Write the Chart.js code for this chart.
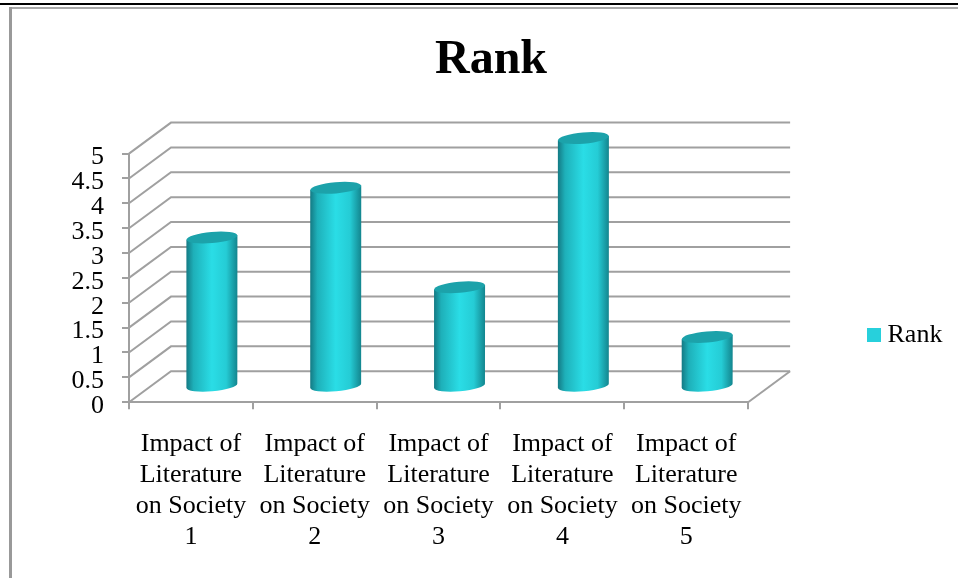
<!DOCTYPE html>
<html>
<head>
<meta charset="utf-8">
<style>html,body{margin:0;padding:0;background:#fff}canvas{display:block}</style>
<script src="https://cdn.jsdelivr.net/npm/chart.js@4"></script>
</head>
<body>
<canvas id="c" width="958" height="578"></canvas>
<script>
const categories = [
  ["Impact of","Literature","on Society","1"],
  ["Impact of","Literature","on Society","2"],
  ["Impact of","Literature","on Society","3"],
  ["Impact of","Literature","on Society","4"],
  ["Impact of","Literature","on Society","5"]
];
const seriesName = "Rank";
const rankValues = [3, 4, 2, 5, 1];
const axisMax = 5;
const axisStep = 0.5;

const FONT = "'Liberation Serif','Times New Roman',serif";
const GRID = "#a0a0a0";
const DEPTH_X = 42, DEPTH_Y = 31;

function drawCylinder(ctx, cx, top, bottom, rx) {
  const ry = 5.6, tilt = -5 * Math.PI / 180, d = rx * Math.sin(-tilt);
  const g = ctx.createLinearGradient(cx - rx, 0, cx + rx, 0);
  g.addColorStop(0, "#147a84");
  g.addColorStop(0.14, "#1eb0b9");
  g.addColorStop(0.5, "#2adde6");
  g.addColorStop(0.78, "#25ccd5");
  g.addColorStop(1, "#13858e");
  ctx.beginPath();
  ctx.moveTo(cx - rx, top + d);
  ctx.lineTo(cx - rx, bottom + d);
  ctx.ellipse(cx, bottom, rx, ry, tilt, Math.PI, 0, true);
  ctx.lineTo(cx + rx, top - d);
  ctx.closePath();
  ctx.fillStyle = g;
  ctx.fill();
  ctx.beginPath();
  ctx.ellipse(cx, top, rx, ry, tilt, 0, Math.PI * 2);
  ctx.fillStyle = "#1ca2aa";
  ctx.fill();
}

const scene = {
  id: "scene",
  beforeDraw(chart) {
    const ctx = chart.ctx;
    ctx.save();
    ctx.fillStyle = "#fff";
    ctx.fillRect(0, 0, chart.width, chart.height);
    ctx.fillStyle = "#000";
    ctx.fillRect(0, 3, chart.width, 2);
    ctx.fillStyle = "#a8a8a8";
    ctx.fillRect(9, 7, chart.width - 9, 2);
    ctx.fillStyle = "#999";
    ctx.fillRect(9, 7, 3, chart.height - 7);
    ctx.restore();
  },
  afterLayout(chart) {
    const t = chart.titleBlock, l = chart.legend;
    t.left += 72.5; t.right += 72.5;
    const h = t.bottom - t.top;
    t.top = 32; t.bottom = 32 + h;
    const w = l.right - l.left;
    l.left = 863.5; l.right = 863.5 + w;
    const lh = l.bottom - l.top;
    l.top = 312; l.bottom = 312 + lh;
  },
  beforeDatasetsDraw(chart) {
    const ctx = chart.ctx, y = chart.scales.y, a = chart.chartArea;
    ctx.save();
    ctx.strokeStyle = GRID;
    ctx.lineWidth = 2;
    y.ticks.forEach(t => {
      const py = y.getPixelForValue(t.value);
      ctx.beginPath();
      ctx.moveTo(a.left, py);
      ctx.lineTo(a.left + DEPTH_X, py - DEPTH_Y);
      ctx.lineTo(a.right + DEPTH_X, py - DEPTH_Y);
      ctx.stroke();
    });
    const base = y.getPixelForValue(0);
    ctx.beginPath();
    ctx.moveTo(a.right, base);
    ctx.lineTo(a.right + DEPTH_X, base - DEPTH_Y);
    ctx.stroke();
    chart.getDatasetMeta(0).data.forEach(el => {
      drawCylinder(ctx, el.x + DEPTH_X / 2, el.y - DEPTH_Y / 2, el.base - DEPTH_Y / 2, el.width / 2);
    });
    ctx.restore();
    return false;
  }
};

new Chart(document.getElementById("c"), {
  type: "bar",
  data: {
    labels: categories,
    datasets: [{
      label: seriesName,
      data: rankValues,
      backgroundColor: "#27d0dc",
      borderWidth: 0,
      categoryPercentage: 1,
      barPercentage: 0.412
    }]
  },
  plugins: [scene],
  options: {
    responsive: false,
    animation: false,
    devicePixelRatio: 1,
    layout: { padding: { left: 0, right: 121, top: 96, bottom: 6 } },
    plugins: {
      tooltip: { enabled: false },
      title: {
        display: true,
        text: seriesName,
        color: "#000",
        padding: 0,
        font: { family: FONT, size: 48, weight: "bold", lineHeight: 1.2 }
      },
      legend: {
        position: "right",
        align: "start",
        labels: {
          usePointStyle: true,
          pointStyle: "rect",
          boxWidth: 1,
          boxHeight: 14,
          padding: 10,
          color: "#000",
          font: { family: FONT, size: 26 }
        }
      }
    },
    scales: {
      x: {
        grid: { display: true, drawOnChartArea: false, drawTicks: true, tickLength: 7, color: GRID, lineWidth: 2 },
        border: { display: true, color: GRID, width: 2 },
        ticks: {
          color: "#000", padding: 19, maxRotation: 0, minRotation: 0, autoSkip: false,
          font: { family: FONT, size: 26, lineHeight: 1.2 }
        }
      },
      y: {
        min: 0,
        max: axisMax,
        afterFit(s) {
          s.width = 129;
          if (!s._shifted) {
            s._shifted = true;
            const orig = s._computeLabelItems;
            s._computeLabelItems = function (area) {
              const items = orig.call(this, area);
              items.forEach(i => { i.options.translation[1] += 4; });
              return items;
            };
          }
        },
        grid: { display: true, drawOnChartArea: false, drawTicks: true, tickLength: 7, color: GRID, lineWidth: 2 },
        border: { display: true, color: GRID, width: 2 },
        ticks: {
          stepSize: axisStep, autoSkip: false, color: "#000", padding: 18,
          font: { family: FONT, size: 26 },
          callback: v => String(v)
        }
      }
    }
  }
});
</script>
</body>
</html>
